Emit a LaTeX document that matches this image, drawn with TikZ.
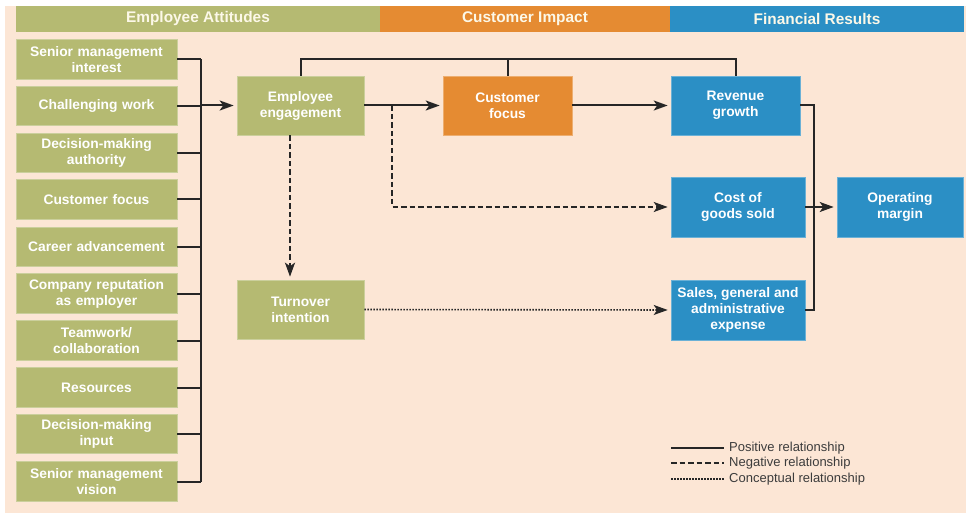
\documentclass[tikz,border=0pt]{standalone}
\usepackage{fontspec}
\setmainfont{Liberation Sans}
\usetikzlibrary{arrows.meta,calc}
\definecolor{grn}{RGB}{181,186,114}
\definecolor{org}{RGB}{229,139,50}
\definecolor{blu}{RGB}{43,143,197}
\definecolor{peach}{RGB}{252,230,213}
\definecolor{ink}{RGB}{38,38,38}
\definecolor{legink}{RGB}{60,60,60}
\tikzset{
  box/.style={rectangle, inner sep=0pt, text=white, align=center,
    font=\fontsize{13.8}{16}\selectfont\bfseries},
  gbox/.style={box, fill=grn, draw=grn!70!white, line width=0.6pt},
  obox/.style={box, fill=org, draw=org!70!white, line width=0.6pt},
  bbox/.style={box, fill=blu, draw=blu!70!white, line width=0.6pt},
  hdr/.style={rectangle, inner sep=0pt, text={rgb,255:red,252;green,248;blue,232},
    font=\fontsize{15.4}{18}\selectfont\bfseries},
  posline/.style={draw=ink, line width=2pt},
  negline/.style={draw=ink, line width=2pt, dash pattern=on 5.5pt off 3pt},
  concline/.style={draw=ink, line width=1.6pt, dash pattern=on 1.5pt off 1.5pt},
  arr/.style={-{Stealth[length=14pt,width=10pt,inset=3.5pt]}, shorten >=3pt},
  legtext/.style={anchor=west, inner sep=0pt, text=legink,
    font=\fontsize{13}{14}\selectfont},
}
\begin{document}
\begin{tikzpicture}[x=1pt,y=-1pt]
\useasboundingbox (0,0) rectangle (966,513);
\fill[peach] (5,6) rectangle (966,513);
% headers
\node[hdr, fill=grn, minimum width=364pt, minimum height=26pt] (h1) at (198,19) {Employee Attitudes};
\node[hdr, fill=org, minimum width=290pt, minimum height=26pt] (h2) at (525,19) {Customer Impact};
\node[hdr, fill=blu, minimum width=294pt, minimum height=26pt] (h3) at (817,19) {Financial Results};
% left column
\tikzset{lbox/.style={gbox, minimum width=161pt, minimum height=39.5pt, text width=158pt}}
\node[lbox] (b1) at (96.5,59.5) {Senior management\\interest};
\node[lbox] (b2) at (96.5,106) {Challenging work};
\node[lbox] (b3) at (96.5,153) {Decision-making\\authority};
\node[lbox] (b4) at (96.5,199.5) {Customer focus};
\node[lbox] (b5) at (96.5,247) {Career advancement};
\node[lbox] (b6) at (96.5,293.5) {Company reputation\\as employer};
\node[lbox] (b7) at (96.5,340.5) {Teamwork/\\collaboration};
\node[lbox] (b8) at (96.5,387.5) {Resources};
\node[lbox] (b9) at (96.5,434) {Decision-making\\input};
\node[lbox] (b10) at (96.5,481.5) {Senior management\\vision};
% middle/right boxes
\node[gbox, minimum width=127pt, minimum height=59pt] (eng) at (300.5,105.5) {Employee\\engagement};
\node[gbox, minimum width=127pt, minimum height=59pt] (tov) at (300.5,309.5) {Turnover\\intention};
\node[obox, minimum width=129pt, minimum height=59pt] (cf) at (507.5,105.5) {Customer\\focus};
\node[bbox, minimum width=129pt, minimum height=59pt] (rev) at (735.5,105.5) {Revenue\\growth};
\node[bbox, minimum width=134pt, minimum height=60pt] (cogs) at (738,207) {Cost of\\goods sold};
\node[bbox, minimum width=134pt, minimum height=60pt] (sga) at (738,310) {Sales, general and\\administrative\\expense};
\node[bbox, minimum width=126pt, minimum height=60pt] (opm) at (900,207) {Operating\\margin};
% left bus
\coordinate (bus) at (201,0);
\foreach \i in {1,...,10} { \draw[posline] (b\i.east) -- (b\i.east -| bus); }
\draw[posline] (b1.east -| bus) -- (b10.east -| bus);
\draw[posline,arr] (bus |- eng.west) -- (eng.west);
% top connector
\coordinate (topy) at (0,59);
\draw[posline] (eng.north) -- (eng.north |- topy) -| (rev.north);
\draw[posline] (cf.north) -- (cf.north |- topy);
% main arrows
\draw[posline,arr] (eng.east) -- (cf.west);
\draw[posline,arr] (cf.east) -- (rev.west);
% negative relationships
\coordinate (d1) at ($(eng.east)!0.355!(cf.west)$);
\draw[negline,arr] (d1) |- (cogs.west);
\draw[negline,arr] ([xshift=-10.5pt]eng.south) -- ([xshift=-10.5pt]tov.north);
% conceptual
\draw[concline,arr] (tov.east) -- (sga.west);
% right bus
\coordinate (rb) at (814,0);
\draw[posline] (rev.east) -| (rb |- sga.east) -- (sga.east);
\draw[posline,arr] (cogs.east) -- (opm.west);
% legend
\coordinate (l1a) at (671,448); \coordinate (l1b) at (724,448);
\coordinate (l2a) at (671,463); \coordinate (l2b) at (724,463);
\coordinate (l3a) at (671,479); \coordinate (l3b) at (724,479);
\draw[posline, line width=1.7pt] (l1a) -- (l1b);
\draw[negline, line width=1.7pt] (l2a) -- (l2b);
\draw[concline, line width=1.5pt] (l3a) -- (l3b);
\node[legtext] (t1) at (729,448) {Positive relationship};
\node[legtext] (t2) at (729,463) {Negative relationship};
\node[legtext] (t3) at (729,479) {Conceptual relationship};
\end{tikzpicture}
\end{document}
